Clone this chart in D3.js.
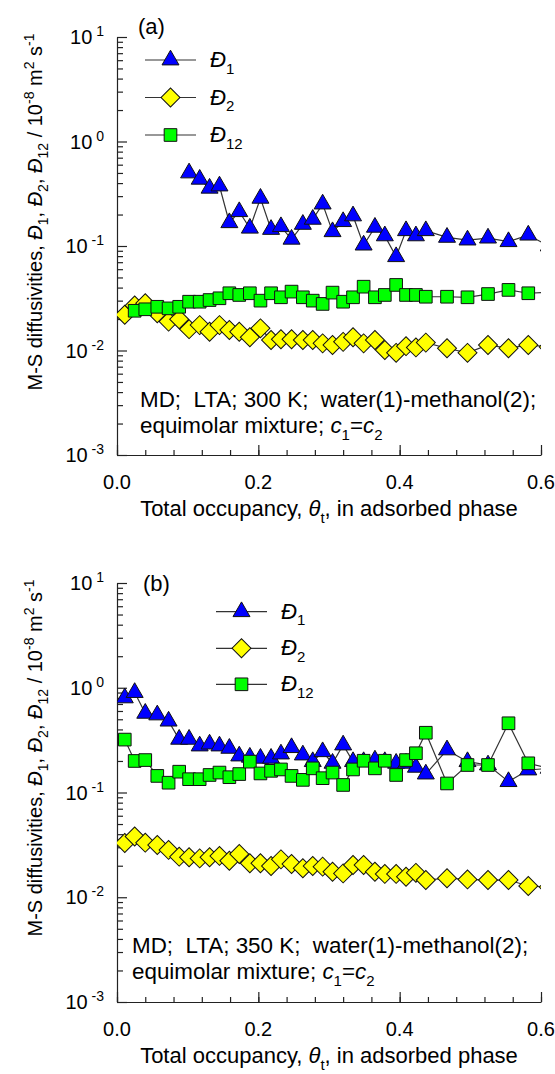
<!DOCTYPE html>
<html>
<head>
<meta charset="utf-8">
<script src="https://cdn.jsdelivr.net/npm/d3@7"></script>
<style>
  body { margin: 0; background: #fff; }
  svg { display: block; }
  text { font-family: "Liberation Sans", Arial, sans-serif; fill: #000; white-space: pre; }
</style>
</head>
<body>
<svg id="chart" width="555" height="1074"></svg>
<script>
// total occupancy grid shared by all series (last point lies past 0.6 and is clipped)
const theta = [0.011, 0.025, 0.040, 0.057, 0.073, 0.088, 0.102, 0.117, 0.131, 0.145, 0.159, 0.173,
    0.188, 0.203, 0.218, 0.232, 0.247, 0.263, 0.277, 0.291, 0.305, 0.320, 0.334, 0.349,
    0.365, 0.379, 0.395, 0.409, 0.423, 0.437, 0.467, 0.496, 0.525, 0.554, 0.582, 0.611];

// panel (a), 300 K
const d1A = [null, null, null, null, null, null, 0.50, 0.435, 0.357, 0.375, 0.167, 0.213,
    0.148, 0.286, 0.144, 0.153, 0.116, 0.161, 0.180, 0.252, 0.137, 0.171, 0.194, 0.102,
    0.151, 0.125, 0.079, 0.140, 0.125, 0.140, 0.121, 0.114, 0.119, 0.110, 0.127, 0.100];
const d2A = [0.022, 0.027, 0.0283, 0.0227, 0.0189, 0.0199, 0.0160, 0.0175, 0.0151, 0.0175, 0.0157, 0.0151,
    0.0134, 0.0163, 0.0126, 0.0128, 0.0128, 0.0126, 0.0126, 0.0117, 0.0113, 0.0121, 0.0134, 0.0117,
    0.0126, 0.0101, 0.0095, 0.0110, 0.0107, 0.0119, 0.0105, 0.0095, 0.0113, 0.0105, 0.0113, 0.0108];
const d12A = [null, 0.024, 0.0248, 0.0262, 0.0253, 0.0262, 0.0293, 0.0293, 0.0304, 0.0316, 0.0353, 0.0340,
    0.0353, 0.0300, 0.0353, 0.0323, 0.0366, 0.0323, 0.0300, 0.0279, 0.0358, 0.0293, 0.0323, 0.0408,
    0.0323, 0.0340, 0.0424, 0.0340, 0.0340, 0.0327, 0.0327, 0.0323, 0.0347, 0.0380, 0.0353, 0.036];

// panel (b), 350 K
const d1B = [0.80, 0.90, 0.57, 0.55, 0.48, 0.322, 0.322, 0.278, 0.290, 0.278, 0.264, 0.223,
    0.217, 0.212, 0.212, 0.233, 0.268, 0.228, 0.197, 0.245, 0.190, 0.284, 0.197, 0.197,
    0.204, 0.197, 0.190, 0.190, 0.174, 0.150, 0.255, 0.197, 0.183, 0.127, 0.164, 0.17];
const d2B = [0.033, 0.038, 0.0332, 0.0315, 0.0283, 0.0244, 0.0241, 0.0235, 0.0241, 0.0248, 0.0223, 0.0259,
    0.0211, 0.0211, 0.0199, 0.0230, 0.0208, 0.0189, 0.0199, 0.0196, 0.0175, 0.0169, 0.0203, 0.0203,
    0.0175, 0.0167, 0.0167, 0.0157, 0.0171, 0.0146, 0.0152, 0.0148, 0.0146, 0.0146, 0.0128, 0.0125];
const d12B = [0.32, 0.20, 0.204, 0.144, 0.124, 0.158, 0.134, 0.134, 0.147, 0.155, 0.140, 0.150,
    0.197, 0.152, 0.161, 0.166, 0.144, 0.132, 0.170, 0.137, 0.155, 0.118, 0.166, 0.201,
    0.170, 0.201, 0.147, 0.204, 0.237, 0.372, 0.122, 0.183, 0.183, 0.458, 0.190, 0.17];

const xTickValues = [0, 0.2, 0.4, 0.6],
    xTickLabels = ["0.0", "0.2", "0.4", "0.6"];
const yExponents = [-3, -2, -1, 0, 1];
const seriesNames = ["1", "2", "12"];
const notesA = ["MD;  LTA; 300 K;  water(1)-methanol(2);", "equimolar mixture; "],
    notesB = ["MD;  LTA; 350 K;  water(1)-methanol(2);", "equimolar mixture; "];

const svg = d3.select('#chart');
const LEFT = 117, RIGHT = 541;

// text with italic / sub / sup pieces
function rich(sel, parts, base) {
    let cur = 0;
    parts.forEach(p => {
        const target = p.sub ? base * 0.3 : p.sup ? -base * 0.4 : 0;
        const ts = sel.append('tspan').text(p.t).attr('dy', target - cur);
        cur = target;
        if (p.sub || p.sup) ts.attr('font-size', Math.round(base * 0.68));
        if (p.i) ts.attr('font-style', 'italic');
    });
    return sel;
}

function marker(g, kind) {
    if (kind === 'tri') {
        return g.append('path').attr('d', d3.symbol(d3.symbolTriangle, 125)())
            .attr('fill', '#0000ff');
    }
    if (kind === 'dia') {
        return g.append('path').attr('d', d3.symbol(d3.symbolSquare, 180)())
            .attr('transform', 'rotate(45)').attr('fill', '#ffff00');
    }
    return g.append('path').attr('d', d3.symbol(d3.symbolSquare, 160)())
        .attr('fill', '#00ff00');
}

function drawPanel(p) {
    const g = svg.append('g');
    const x = d3.scaleLinear().domain([0, 0.6]).range([LEFT, RIGHT]);
    const y = d3.scaleLog().domain([1e-3, 10]).range([p.bottom, p.top]);

    const clipId = 'clip' + p.id;
    svg.append('clipPath').attr('id', clipId).append('rect')
        .attr('x', LEFT).attr('y', p.top - 20).attr('width', RIGHT - LEFT).attr('height', p.bottom - p.top + 20);

    // axes, ticks pointing inward
    const minorX = d3.range(0, 0.601, 0.04);
    g.append('g').attr('transform', `translate(0,${p.bottom})`)
        .call(d3.axisBottom(x).tickValues(minorX).tickSize(-5).tickSizeOuter(0).tickFormat(''));
    g.append('g').attr('transform', `translate(0,${p.bottom})`)
        .call(d3.axisBottom(x).tickValues(xTickValues).tickSize(-10).tickSizeOuter(0).tickFormat(''))
        .select('.domain').remove();

    const minorY = [];
    yExponents.slice(0, -1).forEach(e => d3.range(2, 10).forEach(k => minorY.push(k * Math.pow(10, e))));
    g.append('g').attr('transform', `translate(${LEFT},0)`)
        .call(d3.axisLeft(y).tickValues(minorY).tickSize(-6).tickSizeOuter(0).tickFormat(''));
    g.append('g').attr('transform', `translate(${LEFT},0)`)
        .call(d3.axisLeft(y).tickValues(yExponents.map(e => Math.pow(10, e))).tickSize(-10).tickSizeOuter(0).tickFormat(''))
        .select('.domain').remove();
    g.selectAll('.domain, .tick line').attr('stroke', '#222').attr('stroke-width', 1.2);

    // tick labels
    xTickValues.forEach((v, i) => {
        g.append('text').attr('x', x(v)).attr('y', p.bottom + 34).attr('text-anchor', 'middle')
            .attr('font-size', 20).text(xTickLabels[i]);
    });
    yExponents.forEach(e => {
        const t = g.append('text').attr('x', 104).attr('y', y(Math.pow(10, e)) + 7)
            .attr('text-anchor', 'end').attr('font-size', 20);
        rich(t, [{ t: '10' }, { t: ' ' + e, sup: true }], 20);
    });

    // axis titles
    rich(g.append('text').attr('x', (LEFT + RIGHT) / 2).attr('y', p.bottom + 61)
        .attr('text-anchor', 'middle').attr('font-size', 22),
        [{ t: 'Total occupancy, ' }, { t: 'θ', i: true }, { t: 't', sub: true }, { t: ', in adsorbed phase' }], 22);

    rich(g.append('text').attr('transform', `translate(42,${p.top + 175}) rotate(-90)`)
        .attr('text-anchor', 'middle').attr('font-size', 20),
        [{ t: 'M-S diffusivities, ' }, { t: 'Đ', i: true }, { t: '1', sub: true }, { t: ', ' },
            { t: 'Đ', i: true }, { t: '2', sub: true }, { t: ', ' },
            { t: 'Đ', i: true }, { t: '12', sub: true }, { t: ' / 10' }, { t: '-8', sup: true },
            { t: ' m' }, { t: '2', sup: true }, { t: ' s' }, { t: '-1', sup: true }], 20);

    g.append('text').attr('x', p.tagX).attr('y', p.tagY).attr('font-size', 22).text(p.tag);

    // series: D2 first, then D1, then D12 on top
    const order = [
        { vals: p.d2, kind: 'dia' },
        { vals: p.d1, kind: 'tri' },
        { vals: p.d12, kind: 'sq' }
    ];
    const plot = g.append('g').attr('clip-path', `url(#${clipId})`);
    order.forEach(s => {
        const pts = theta.map((t, i) => ({ t, v: s.vals[i] })).filter(d => d.v != null);
        plot.append('path').datum(pts)
            .attr('fill', 'none').attr('stroke', '#333').attr('stroke-width', 1.2)
            .attr('d', d3.line().x(d => x(d.t)).y(d => y(d.v)));
        pts.forEach(d => {
            const mg = plot.append('g').attr('transform', `translate(${x(d.t)},${y(d.v)})`);
            marker(mg, s.kind).attr('stroke', '#111').attr('stroke-width', 1);
        });
    });

    // legend
    ['tri', 'dia', 'sq'].forEach((k, i) => {
        const ly = p.legY[i];
        g.append('line').attr('x1', p.legX).attr('x2', p.legX + 51).attr('y1', ly).attr('y2', ly)
            .attr('stroke', '#333').attr('stroke-width', 1.2);
        const mg = g.append('g').attr('transform', `translate(${p.legX + 25.5},${ly})`);
        marker(mg, k).attr('stroke', '#111').attr('stroke-width', 1);
        rich(g.append('text').attr('x', p.legX + 65).attr('y', ly + 7).attr('font-size', 22),
            [{ t: 'Đ', i: true }, { t: seriesNames[i], sub: true }], 22);
    });

    // note
    g.append('text').attr('x', p.noteX).attr('y', p.noteY).attr('font-size', 22.4).text(p.notes[0]);
    rich(g.append('text').attr('x', p.noteX).attr('y', p.noteY + 26).attr('font-size', 22.4),
        [{ t: p.notes[1] }, { t: 'c', i: true }, { t: '1', sub: true }, { t: '=' }, { t: 'c', i: true }, { t: '2', sub: true }], 22.4);
}

drawPanel({
    id: 'a', tag: '(a)', tagX: 138, tagY: 34, top: 37, bottom: 455,
    d1: d1A, d2: d2A, d12: d12A,
    legX: 145, legY: [60, 97.5, 135],
    notes: notesA, noteX: 140, noteY: 407
});
drawPanel({
    id: 'b', tag: '(b)', tagX: 143, tagY: 591, top: 583, bottom: 1002,
    d1: d1B, d2: d2B, d12: d12B,
    legX: 216, legY: [611.7, 648.3, 684.3],
    notes: notesB, noteX: 132, noteY: 953
});
</script>
</body>
</html>
